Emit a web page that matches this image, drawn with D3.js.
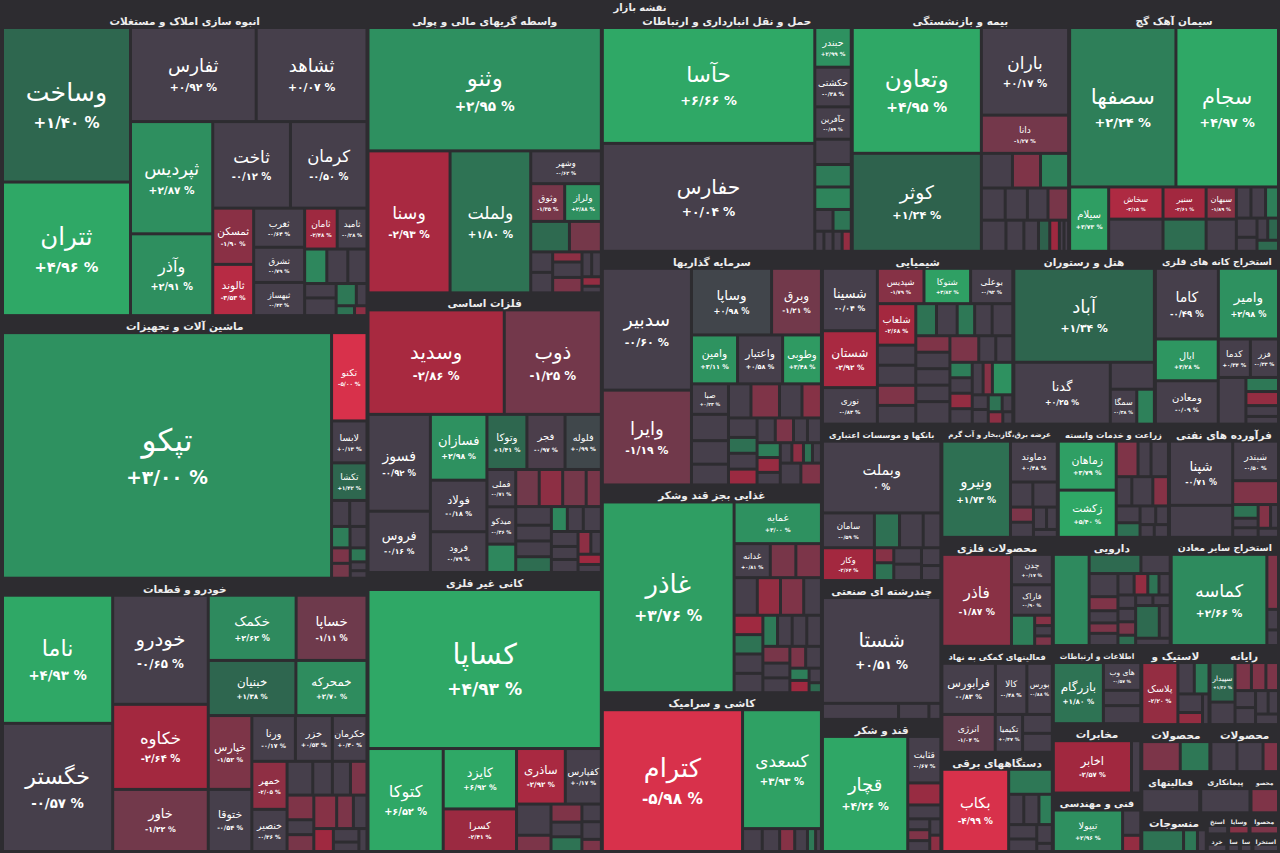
<!DOCTYPE html>
<html><head><meta charset="utf-8">
<script src="https://cdn.jsdelivr.net/npm/d3@7"></script>
<style>html,body{margin:0;background:#2d2c30;}svg{display:block;}</style>
</head><body><svg id="c" width="1280" height="853"></svg>
<script>
const chartTitle = "نقشه بازار";
const sectorTitles = ["انبوه سازی املاک و مستغلات","ماشین آلات و تجهیزات","خودرو و قطعات","واسطه گریهای مالی و پولی","فلزات اساسی","کانی غیر فلزی","حمل و نقل انبارداری و ارتباطات","بیمه و بازنشستگی","سیمان آهک گچ","سرمایه گذاریها","غذایی بجز قند وشکر","کاشی و سرامیک","شیمیایی","هتل و رستوران","استخراج کانه های فلزی","بانکها و موسسات اعتباری","چندرشته ای صنعتی","قند و شکر","عرضه برق،گاز،بخار و آب گرم","زراعت و خدمات وابسته","فرآورده های نفتی","محصولات فلزی","فعالیتهای کمکی به نهاد","دستگاههای برقی","دارویی","استخراج سایر معادن","اطلاعات و ارتباطات","مخابرات","فنی و مهندسی","لاستیک و","رایانه","محصولات","محصولات","فعالیتهای","پیمانکاری","محصو","منسوجات","استخ","وسایا","محصوا","خرد","سا","سا","استخرا"];

// [symbol, % change, weight]
const s0 = [["وساخت",1.40,197],["ثتران",4.96,170],["ثفارس",0.92,117],["ثشاهد",0.07,103],["ثپردیس",2.87,91],["وآذر",2.91,66],["ثاخت",-0.12,66],["کرمان",-0.50,65],["ثمسکن",-1.90,22],["ثالوند",-3.53,20],["ثغرب",-0.64,19],["ثشرق",-0.79,17],["ثبهساز",-0.43,16],["ثامان",-2.48,12.5],["ثامید",-0.28,11.4],["",2.5,7],["",-0.3,6.6],["",0.2,6],["",-0.4,4],["",0.1,5],["",2.0,4],["",0,2],["",1.8,1.5],["",-2,1]];
const s1 = [["تپکو",3.00,813],["تکنو",-5.00,30],["لابسا",0.13,14],["تکشا",1.42,12.5],["",-0.3,4.2],["",0.2,4],["",2.2,3.5],["",-0.5,3.2],["",-1.5,2.5],["",-1.3,2.4],["",2,2],["",0,1.2],["",0,1]];
const s2 = [["ناما",4.93,140],["خگستر",-0.57,140],["خودرو",-0.65,103],["خکاوه",-2.64,80],["خاور",-1.22,58],["خکمک",2.62,56],["خساپا",-1.11,45],["خبنیان",1.38,47],["خمحرکه",2.70,38],["خپارس",-1.52,31],["ختوقا",-0.54,26],["ورنا",-0.17,19],["خزر",0.53,16],["خکرمان",0.40,15],["خمهر",-2.05,16],["خنصیر",-0.36,14],["",-0.3,8],["",0.2,6],["",-0.5,5.5],["",-1.5,5],["",-1.6,6],["",-0.4,3.5],["",-1.4,4],["",-1.8,7],["",-1.5,5],["",-0.3,4],["",-2.5,4],["",-0.2,3],["",-0.5,2],["",0,1.5]];
const s3 = [["وثنو",2.95,287],["وسنا",-2.93,115],["ولملت",1.80,113],["وشهر",-0.62,22],["وثوق",-1.35,12],["ولراز",2.88,13],["",1.5,11],["",-1.3,9],["",-0.3,4],["",-0.2,4],["",-2,2.5],["",0,4],["",-1.5,4],["",-0.3,2],["",-0.4,2],["",-2.2,1.5],["",0,1]];
const s4 = [["وسدید",-2.86,141],["ذوب",-1.25,100],["فسوز",-0.92,59],["فروس",-0.16,37],["فسازان",2.98,36],["فولاد",-0.18,28],["فرود",-0.79,22],["وتوکا",1.41,21],["فجر",-0.97,20],["فلوله",0.99,19],["فملی",-0.71,10],["میدکو",-0.36,10],["",2.5,7.5],["",-1.2,8],["",-2.0,8],["",-1.3,8],["",-1.4,5],["",-0.5,6],["",-0.3,5],["",0.2,5],["",1.6,5],["",2.5,3.5],["",-0.4,3.5],["",0,4],["",-0.2,3.5],["",-0.5,3],["",0.1,3],["",-2,2.5],["",-0.3,2],["",-2.5,2],["",0,1.5]];
const s5 = [["کساپا",4.93,371],["کتوکا",6.52,76],["کایزد",6.92,43],["کسرا",-2.41,30],["ساذری",-2.92,26],["کفپارس",0.17,19],["",-0.3,10],["",-1.5,5],["",-1.6,5],["",-0.2,4],["",1.8,4],["",-0.4,3],["",0,3],["",-1.5,2]];
const s6 = [["حآسا",6.66,245],["حفارس",0.04,228],["حبندر",2.99,13.6],["حکشتی",-0.38,13.6],["حآفرین",-0.89,11],["",-0.4,8.5],["",2.1,7.5],["",2.4,7.5],["",-0.3,3.5],["",1.9,3.5],["",-0.2,1.5],["",-0.3,1.5],["",0,1.5],["",-2.2,1.5]];
const s7 = [["وتعاون",4.95,161],["کوثر",1.24,125],["باران",0.17,75],["دانا",-1.27,32],["",-0.5,10],["",-1.6,9],["",2.3,9],["",-0.3,7],["",-0.2,6.5],["",0,6],["",-1.4,6],["",-0.3,7],["",-0.4,5],["",0.1,4],["",1.2,3],["",-2.5,2.5],["",0,1],["",0,1]];
const s8 = [["سصفها",2.24,168],["سجام",4.97,162],["سیلام",3.73,24],["سخاش",-3.15,16.5],["",-0.4,16.5],["سنیر",-2.61,13],["",1.6,13],["سبهان",-1.89,9],["",-0.3,9],["",-0.4,4],["",-0.2,4],["",2.2,3.5],["",-0.5,3.5],["",0,2.5],["",-0.3,2],["",1.4,2],["",1.5,2]];
const s9 = [["سدبیر",-0.60,107],["وایرا",-1.19,83],["وساپا",0.98,52],["وبرق",-1.21,32],["وامین",3.11,21.5],["واعتبار",0.58,21],["وطوبی",3.48,18],["صبا",0.23,10.5],["",-0.3,9],["",-0.4,8],["",0,7],["",-0.2,7],["",-1.6,9],["",-0.5,7],["",-1.8,6],["",-0.3,5],["",1.7,4],["",-0.3,4],["",-2.4,4],["",-0.2,4],["",-1.5,4],["",-0.4,3],["",0,3],["",2.2,3],["",-2.3,3],["",-0.3,2.5],["",-0.2,2],["",-2,2],["",1.8,1.5],["",0,1.5],["",-0.5,4],["",-1.6,4]];
const s10 = [["غاذر",3.76,250],["غمایه",3.00,35],["غدانه",0.81,11.5],["",-1.4,8],["",-1.5,8],["",-0.4,8],["",-2.2,8],["",-1.6,8],["",-0.3,6],["",-2.5,5],["",1.8,5],["",-0.5,5],["",-0.2,5],["",2.1,4],["",-0.4,4],["",0,4],["",-0.3,4],["",-1.4,4],["",-0.3,3.5],["",-0.2,3.5],["",-1.5,3],["",0,3],["",2.2,2],["",-2.5,2],["",-0.1,1.5],["",1.5,1]];
const s11 = [["کترام",-5.98,197],["کسعدی",3.93,92],["",-0.3,4],["",-0.4,3.5],["",-1.8,3],["",-0.2,2.5],["",2,1.5],["",0,1]];
const s12 = [["شسینا",-0.04,33],["شستان",-2.92,30],["نوری",-0.83,19],["شپدیس",-1.79,15.5],["شتوکا",3.82,15.5],["بوعلی",-0.92,14],["شلعاب",-2.68,15],["",-0.3,7],["",-0.2,7],["",-1.6,7],["",-0.4,6.5],["",1.8,6],["",-0.3,6],["",2.0,5],["",-0.2,5],["",-0.3,6],["",-1.6,5],["",-0.2,5],["",-0.4,5],["",0,5],["",-0.3,7],["",-1.5,7],["",-0.2,4],["",0,4],["",2.2,3],["",-0.3,3],["",-2.2,3],["",-0.2,3],["",0,3],["",-1.8,2.5],["",3.0,6],["",-0.3,2],["",0,2],["",1.8,2],["",-0.2,1.5],["",-2,1.5],["",0,1]];
const s13 = [["آباد",1.34,130],["گدنا",0.25,58],["",-0.3,11],["سمگا",-0.38,8.5],["",2.3,5.5]];
const s14 = [["کاما",-0.49,43],["وامیر",2.98,41],["اپال",3.28,25],["ومعادن",-0.09,26],["کدما",0.34,11.5],["فزر",-0.33,10],["",-0.4,12],["",2.0,4],["",-2.2,4],["",-0.3,3],["",0,2]];
const s15 = [["وبملت",0,83],["سامان",-0.59,17],["وکار",-2.64,16],["",1.7,8],["",-0.3,7.5],["",-0.2,5.5],["",-1.8,2.5],["",1.8,3],["",-0.3,4],["",-0.2,4],["",0,3],["",-0.1,2.5]];
const s16 = [["شستا",0.51,123],["",-0.2,11],["",0,4.3],["",-0.1,1.6]];
const s17 = [["قچار",4.26,96],["قثابت",-0.67,14.4],["",-2.3,6.6],["",-0.3,4],["",-0.5,2],["",-1.6,2],["",0,2],["",-0.2,1.5],["",-2,1.5]];
const s18 = [["ونیرو",1.73,64],["دماوند",0.48,18],["",-0.3,5],["",-0.2,5.5],["",-1.5,3],["",-0.3,3],["",-0.2,2.5],["",0,2],["",0,1.5]];
const s19 = [["زماهان",3.79,27],["زکشت",5.40,26],["",-1.6,7],["",-0.3,4],["",-0.2,5.5],["",-0.3,4],["",-0.4,5.5],["",-1.8,4],["",-0.2,3.5],["",1.7,3],["",-0.3,2.5],["",0,2],["",0,1.5],["",-0.1,1.5]];
const s20 = [["شپنا",-0.71,39],["شبندر",-0.50,17],["",-0.3,19],["",-1.6,10],["",1.8,3],["",-0.3,2],["",-0.2,2],["",-1.7,2.5],["",-0.3,1.5],["",0,1.5]];
const s21 = [["فاذر",-1.87,62],["چدن",0.17,11.5],["فاراک",-0.90,11.5],["",2.2,6.5],["",-1.8,1.5],["",-0.3,1.5],["",-1.5,1.5]];
const s22 = [["فرابورس",-0.83,26],["کالا",-0.48,15],["بورس",-0.88,12],["انرژی",-1.04,19],["تکیمیا",0.47,9.5],["",-0.3,5],["",-0.2,5]];
const s23 = [["بکاب",-4.99,53],["",2.0,10],["",-0.3,4],["",-0.2,4],["",2.2,3.5],["",-0.3,3.5],["",-0.2,3],["",0,2.5],["",0,1]];
const s24 = [["",2.6,31],["",1.5,9],["",-0.3,5],["",-0.3,6],["",-1.6,3.5],["",-0.2,3],["",-1.5,2.5],["",0,3],["",-0.3,3],["",-2.2,2.5],["",1.8,2],["",-0.3,2],["",-0.2,2],["",0,2],["",-1.4,2],["",1.6,1.5],["",-0.2,1.5],["",-0.3,1.5],["",1.5,7],["",-0.2,3],["",0,2]];
const s25 = [["کماسه",2.66,85],["",-1.6,5.5],["",-0.3,2],["",0,1.5]];
const s26 = [["بازرگام",1.80,29],["های وب",-0.57,9.5],["",-0.3,5],["",-0.2,6]];
const s27 = [["اخابر",-2.57,39],["",-0.3,4]];
const s28 = [["تیپولا",2.96,27],["",-0.3,4],["",-2.2,2.5]];
const s29 = [["پلاسک",-2.20,21],["",-0.3,4.5],["",2.1,4],["",-0.2,4],["",-2.2,2.5],["",0,1.5]];
const s30 = [["سپیدار",1.36,9],["",-0.3,5],["",-1.5,4],["",-1.6,3.5],["",-1.5,3],["",-0.3,3],["",0,3],["",-0.2,2.5],["",0,2],["",-0.1,2]];
const s31 = [["",-1.5,10.5],["",2.0,8]];
const s32 = [["",-0.3,7],["",-0.2,7],["",-1.6,4]];
const s33 = [["",-0.3,12.7]];
const s34 = [["",-0.2,10.8]];
const s35 = [["",-1.6,6]];
const s36 = [["",1.8,8],["",2.0,2.5],["",-0.3,1.5]];
const s37 = [["",-0.3,1.5]];
const s38 = [["",-1.8,1.5]];
const s39 = [["",-1.5,2]];
const s40 = [["",-0.3,1.2]];
const s41 = [["",0,0.8]];
const s42 = [["",-0.2,0.8]];
const s43 = [["",-0.3,1.5]];
const sectorStocks = [s0,s1,s2,s3,s4,s5,s6,s7,s8,s9,s10,s11,s12,s13,s14,s15,s16,s17,s18,s19,s20,s21,s22,s23,s24,s25,s26,s27,s28,s29,s30,s31,s32,s33,s34,s35,s36,s37,s38,s39,s40,s41,s42,s43];

// arrangement (h = side by side, v = stacked, s = squarified), indices into the arrays above
const sectorLayouts = [
 "h(v(0,1),v(h(2,3),h(v(4,5),v(h(6,7),h(v(8,9),v(10,11,12),v(h(13,14),s(15-23)))))))",
 "h(0,v(1,2,3,s(4-12)))",
 "h(v(0,1),v(2,3,4),v(h(5,6),h(7,8),h(v(9,10),v(h(11,12,13),h(v(14,15),s(16-29))))))",
 "v(0,h(1,2,v(3,h(4,5),h(6,7),s(8-16))))",
 "v(h(0,1),h(v(2,3),v(4,5,6),v(h(7,8,9),h(v(10,11,12),s(13-30)))))",
 "v(0,h(1,v(2,3),v(h(4,5),s(6-13))))",
 "h(v(0,1),v(2,3,4,5,6,7,h(8,9),h(10-13)))",
 "h(v(0,1),v(2,3,h(4,5,6),h(7,8,9,10),h(11-17)))",
 "v(h(0,1),h(2,v(3,4),v(5,6),v(7,8),s(9-16)))",
 "h(v(0,1),v(h(2,3),h(4,5,6),s(7-31)))",
 "h(0,v(1,h(2,3,4),s(5-25)))",
 "h(0,v(1,h(2-7)))",
 "h(v(0,1,2),v(h(3,4,5),s(6-36)))",
 "v(0,h(1,v(2,h(3,4))))",
 "v(h(0,1),h(v(2,3),v(h(4,5),h(6,v(7,8,9,10)))))",
 "v(0,h(v(1,2),s(3-11)))",
 "v(0,h(1,2,3))",
 "h(0,v(1,2,3,s(4-8)))",
 "h(0,v(1,s(2-8)))",
 "h(v(0,1),s(2-13))",
 "h(v(0,2),v(1,3,s(4-9)))",
 "h(0,v(1,2,h(3,v(4,5,6))))",
 "v(h(0,1,2),h(3,4,v(5,6)))",
 "h(0,v(1,s(2-8)))",
 "h(0,v(h(1,2),s(3-20)))",
 "h(0,v(1,2,3))",
 "h(0,v(1,2,3))",
 "h(0,1)",
 "h(0,v(1,2))",
 "h(0,s(1-5))",
 "h(v(0,1),s(2-9))",
 "h(0,1)","h(0,1,2)","h(0)","h(0)","h(0)","h(0,1,2)",
 "h(0)","h(0)","h(0)","h(0)","h(0)","h(0)","h(0)"
];
const marketLayout = "h(v(0,1,2),v(3,4,5),v(h(6,7,8),h(v(9,10,11),v(h(12,13,14),h(v(15,16,17),v(h(18,19,20),h(v(21,22,23),v(h(24,25),h(v(26,27,28),v(h(29,30),h(31,32),h(33,34,35),h(36,v(h(37,38,39),h(40,41,42,43)))))))))))))";

const W = 1280, H = 853;

function parseLayout(str, leaf) {
  str = str.replace(/\s+/g, '');
  let i = 0;
  function items() {
    const c = str[i];
    if (c === 'h' || c === 'v' || c === 's') {
      i += 2;
      const kids = [];
      while (i < str.length && str[i] !== ')') {
        kids.push(...items());
        if (str[i] === ',') i++;
      }
      i++;
      return [{dir: c, children: kids}];
    }
    const m = /^(\d+)(?:-(\d+))?/.exec(str.slice(i));
    i += m[0].length;
    const a = +m[1], b = m[2] !== undefined ? +m[2] : a;
    const out = [];
    for (let k = a; k <= b; k++) out.push(leaf(k));
    return out;
  }
  return items()[0];
}
function markInner(g) { (g.children || []).forEach(c => { if (c.children) { c.inSec = true; markInner(c); } }); }

const rootData = parseLayout(marketLayout, si => {
  const g = parseLayout(sectorLayouts[si], k => {
    const r = sectorStocks[si][k];
    return {name: r[0], change: r[1], w: r[2], sec: si};
  });
  g.sector = true; g.title = sectorTitles[si];
  markInner(g);
  return g;
});

const color = d3.scaleLinear()
  .domain([-5, -2.6, -1.1, -0.95, 0.95, 1.1, 2.6, 4.3])
  .range(['#d8314b','#a2283f','#6e3a4c','#463f4b','#463f4b','#2e5e4b','#2e8a5e','#2fa866'])
  .clamp(true);

const fa = s => s.replace(/\d/g, d => '۰۱۲۳۴۵۶۷۸۹'[+d]);
function fmt(v) {
  if (v === 0) return fa('0') + ' %';
  return (v > 0 ? '+' : '-') + fa(Math.abs(v).toFixed(2)).replace('.', '/') + ' %';
}

function tile(node, x0, y0, x1, y1) {
  const saved = node.value;
  node.value = d3.sum(node.children, c => c.value);
  const d = node.data.dir;
  if (d === 'h') d3.treemapDice(node, x0, y0, x1, y1);
  else if (d === 'v') d3.treemapSlice(node, x0, y0, x1, y1);
  else d3.treemapSquarify(node, x0, y0, x1, y1);
  node.value = saved;
}
const hdr = n => Math.min(16, Math.max(0, (n.y1 - n.y0) * 0.68));

const treemap = d3.treemap()
  .size([W, H])
  .tile(tile)
  .paddingInner(n => (n.data.sector || n.data.inSec) ? 3 : 4)
  .paddingTop(n => n.depth === 0 ? 13 : (n.data.sector ? hdr(n) : 0))
  .paddingLeft(n => n.depth === 0 ? 4 : 0)
  .paddingRight(n => n.depth === 0 ? 3 : 0)
  .paddingBottom(n => n.depth === 0 ? 3 : 0);

// layout pass: weights are visible cell areas, so area lost to headers and gaps is added back iteratively
const root = d3.hierarchy(rootData).sum(d => d.children ? 0 : d.w);
let extra = new Map();
function recompute() {
  root.eachAfter(n => {
    if (!n.children) n.value = n.data.w + (extra.get(n) || 0);
    else n.value = d3.sum(n.children, c => c.value) + (extra.get(n) || 0);
  });
}
for (let it = 0; it < 10; it++) {
  recompute();
  treemap(root);
  const k = ((W - 7) * (H - 16)) / root.value;
  const nx = new Map();
  root.each(n => {
    const w = n.x1 - n.x0, h = n.y1 - n.y0;
    if (!n.children) nx.set(n, 1.5 * (w + h) / k);
    else if (n.data.sector) nx.set(n, (hdr(n) * w + 2 * (w + h)) / k);
  });
  extra = nx;
}
recompute();
treemap(root);

const svg = d3.select('#c');
svg.append('rect').attr('width', W).attr('height', H).attr('fill', '#2d2c30');
const FONT = "'DejaVu Sans', 'Noto Sans', sans-serif";

svg.append('text').attr('x', W / 2).attr('y', 7).attr('text-anchor', 'middle')
  .attr('dominant-baseline', 'central').attr('fill', '#eeeeee')
  .attr('font-family', FONT).attr('font-size', 10).attr('font-weight', 'bold').text(chartTitle);

const leaves = root.leaves();
const g = svg.append('g');
g.selectAll('rect.cell').data(leaves).join('rect')
  .attr('class', 'cell')
  .attr('x', d => d.x0).attr('y', d => d.y0)
  .attr('width', d => Math.max(0, d.x1 - d.x0))
  .attr('height', d => Math.max(0, d.y1 - d.y0))
  .attr('fill', d => color(d.data.change));

const labeled = leaves.filter(d => d.data.name);
labeled.forEach(d => {
  const w = d.x1 - d.x0, h = d.y1 - d.y0;
  const name = d.data.name;
  const fs = Math.min(31, 0.17 * w + 4, 0.16 * h + 3.5, w / (name.length * 0.5));
  if (fs < 6 || h < 16 || w < 18) return;
  const cx = (d.x0 + d.x1) / 2, cy = (d.y0 + d.y1) / 2;
  g.append('text').attr('x', cx).attr('y', cy - 0.5 * fs)
    .attr('text-anchor', 'middle').attr('dominant-baseline', 'central')
    .attr('fill', '#ffffff').attr('font-family', FONT).attr('font-size', fs.toFixed(1))
    .text(name);
  g.append('text').attr('x', cx).attr('y', cy + 0.72 * fs)
    .attr('text-anchor', 'middle').attr('dominant-baseline', 'central')
    .attr('fill', '#ffffff').attr('font-family', FONT).attr('font-weight', 'bold')
    .attr('font-size', (fs * 0.6).toFixed(1))
    .text(fmt(d.data.change));
});

const sectors = root.descendants().filter(n => n.data.sector);
svg.append('g').selectAll('text').data(sectors).join('text')
  .attr('x', d => (d.x0 + d.x1) / 2)
  .attr('y', d => d.y0 + hdr(d) * 0.5)
  .attr('text-anchor', 'middle').attr('dominant-baseline', 'central')
  .attr('fill', '#eeeeee').attr('font-family', FONT).attr('font-weight', 'bold')
  .attr('font-size', d => hdr(d) < 14 ? 9 : 10.5)
  .text(d => d.data.title)
  .each(function (d) {
    const fs0 = +this.getAttribute('font-size');
    const L = this.getComputedTextLength();
    const avail = d.x1 - d.x0 - 10;
    if (L > avail) {
      const fs = Math.max(6, fs0 * avail / L);
      this.setAttribute('font-size', fs.toFixed(2));
    }
  });
</script>
</body></html>
